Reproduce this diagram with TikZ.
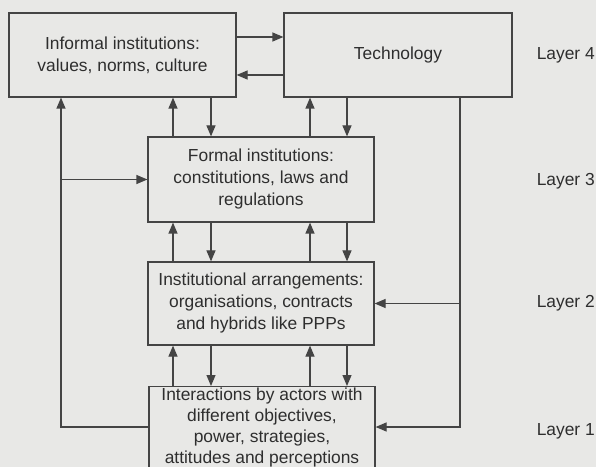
\documentclass[tikz,border=0pt]{standalone}
\usepackage{fontspec}
\setmainfont{Liberation Sans}
\usetikzlibrary{arrows.meta,calc}
\definecolor{paper}{HTML}{E8E8E6}
\definecolor{ink}{HTML}{444444}
\definecolor{txt}{HTML}{2E2E2E}
\newcommand{\BOXFONT}{\fontsize{17.4bp}{22bp}\selectfont}
\tikzset{
  layerbox/.style={
    draw=ink,line width=1.2bp,align=center,text=txt,font=\BOXFONT,inner sep=0pt,
  },
  flow/.style={draw=ink,line width=1.2bp,-{Triangle[length=11bp,width=9bp]}},
  layertag/.style={anchor=east,text=txt,font=\BOXFONT,inner sep=0pt},
}

\begin{document}
\begin{tikzpicture}[x=1bp,y=-1bp]
        \fill[paper] (0,0) rectangle (596,467);
        \clip (0,0) rectangle (596,467);
        % boxes
        \node[layerbox,minimum width=227bp,minimum height=84bp] (informal) at (122.5,55)
            {Informal institutions:\\values, norms, culture};
        \node[layerbox,minimum width=228bp,minimum height=84bp] (techno) at (398,55)
            {Technology};
        \node[layerbox,minimum width=226bp,minimum height=85bp] (formal) at (261,179.5)
            {Formal institutions:\\constitutions, laws and\\regulations};
        \node[layerbox,minimum width=226bp,minimum height=83bp] (arrange) at (261,303.5)
            {Institutional arrangements:\\organisations, contracts\\and hybrids like PPPs};
        \node[layerbox,minimum width=226bp,inner ysep=1.5bp,anchor=north,
              font=\fontsize{17.4bp}{21bp}\selectfont] (interact) at (262,386)
            {Interactions by actors with\\different objectives,\\power, strategies,\\attitudes and perceptions};
        % layer labels
        \node[layertag] (layerfour) at (595,55) {Layer 4};
        \node[layertag] (layerthree) at (595,181) {Layer 3};
        \node[layertag] (layertwo) at (595,303) {Layer 2};
        \node[layertag] (layerone) at (595,431) {Layer 1};
        % columns and bends
        \coordinate (colA) at (173,0);
        \coordinate (colB) at (211,0);
        \coordinate (colC) at (310,0);
        \coordinate (colD) at (347,0);
        \coordinate (lbend) at (61,427);
        \coordinate (rbend) at (460,427);
        % top row
        \draw[flow] ([yshift=18bp]informal.east) -- ([yshift=18bp]techno.west);
        \draw[flow] ([yshift=-20bp]techno.west) -- ([yshift=-20bp]informal.east);
        % up and down between layers
        \foreach \lo/\hi/\cu/\cd in {formal/informal/colA/colB, formal/techno/colC/colD,
                arrange/formal/colA/colB, arrange/formal/colC/colD,
                interact/arrange/colA/colB, interact/arrange/colC/colD} {
            \draw[flow] (\lo.north -| \cu) -- (\hi.south -| \cu);
            \draw[flow] (\hi.south -| \cd) -- (\lo.north -| \cd);
        }
        % feedback loops
        \draw[flow] (interact.west |- lbend) -- (lbend) -- (lbend |- informal.south);
        \draw[flow] (lbend |- formal.west) -- (formal.west);
        \draw[flow] (rbend |- techno.south) -- (rbend) -- (interact.east |- rbend);
        \draw[flow] (rbend |- arrange.east) -- (arrange.east);
    \end{tikzpicture}
\end{document}
